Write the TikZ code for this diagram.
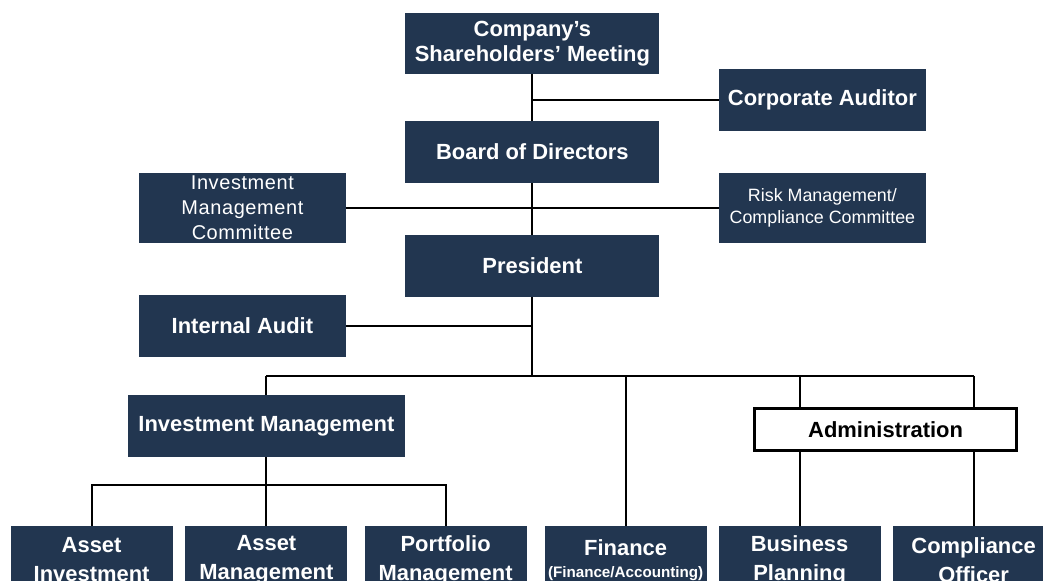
\documentclass[tikz,border=0pt]{standalone}
\usepackage{fontspec}
\setmainfont{Liberation Sans}
\definecolor{navy}{RGB}{34,54,80}
\begin{document}
\begin{tikzpicture}[
    unit/.style={fill=navy,text=white,font=\bfseries\fontsize{15.6}{17.8}\selectfont,
      align=center,inner sep=0pt,minimum width=6.35cm,minimum height=1.55cm},
    side/.style={unit,minimum width=5.18cm},
    dept/.style={unit,minimum width=4.05cm,minimum height=1.7cm,
      font=\bfseries\fontsize{15.6}{20.6}\selectfont},
    admbox/.style={draw=black,line width=2.1pt,fill=white,text=black,
      font=\bfseries\fontsize{15.6}{17.8}\selectfont,
      minimum width=6.55cm,minimum height=1.05cm,inner sep=0pt},
    link/.style={draw=black,line width=1.4pt}
  ]
  \clip (0,0) rectangle (26.075,-14.525);
  \path
    (13.31,-1.09) node[unit,minimum height=1.53cm] (share){Company’s\\Shareholders’ Meeting}
    (20.56,-2.5) node[side] (corp){Corporate Auditor}
    (13.31,-3.8) node[unit] (board){Board of Directors}
    (6.06,-5.2) node[side,minimum height=1.75cm,
      font=\fontsize{14.2}{17.8}\selectfont\addfontfeature{LetterSpace=3}] (imc){Investment\\Management\\Committee}
    (20.56,-5.2) node[side,minimum height=1.75cm,
      font=\fontsize{12.7}{15.6}\selectfont] (rmc){Risk Management/\\Compliance Committee}
    (13.31,-6.65) node[unit] (pres){President}
    (6.06,-8.15) node[side] (ia){Internal Audit}
    (6.66,-10.65) node[unit,minimum width=6.93cm] (im){Investment Management}
    (22.14,-10.74) node[admbox] (adm){Administration}
    (2.29,-14.0) node[dept] (ai){Asset\\Investment}
    (6.66,-14.0) node[dept] (am){Asset\\Management}
    (11.14,-14.0) node[dept] (pm){Portfolio\\Management}
    (15.64,-14.0) node[dept] (fin){Finance\\[-5pt]{\fontsize{10.8}{12}\selectfont (Finance/Accounting)}}
    (19.99,-14.0) node[dept] (bp){Business\\Planning}
    (24.34,-14.0) node[dept] (co){Compliance\\Officer};
  \coordinate (bus) at (13.31,-9.4);
  \coordinate (imbus) at (6.66,-12.125);
  \begin{scope}[link]
    \draw (share) to (board);
    \draw (share.south |- corp.west) to (corp.west);
    \draw (imc) to (rmc);
    \draw (board) to (pres);
    \draw (pres.south) to (bus);
    \draw (ia.east) to (ia.east -| bus);
    \draw (im.north |- bus) to (co.north |- bus);
    \draw (im.north |- bus) to (im.north);
    \draw (fin.north |- bus) to (fin.north);
    \draw (bp.north |- bus) to (bp.north |- adm.north);
    \draw (co.north |- bus) to (co.north |- adm.north);
    \draw (bp.north |- adm.south) to (bp.north);
    \draw (co.north |- adm.south) to (co.north);
    \draw (im.south) to (am.north);
    \draw (ai.north) to (ai.north |- imbus) to (pm.north |- imbus) to (pm.north);
  \end{scope}
\end{tikzpicture}
\end{document}
